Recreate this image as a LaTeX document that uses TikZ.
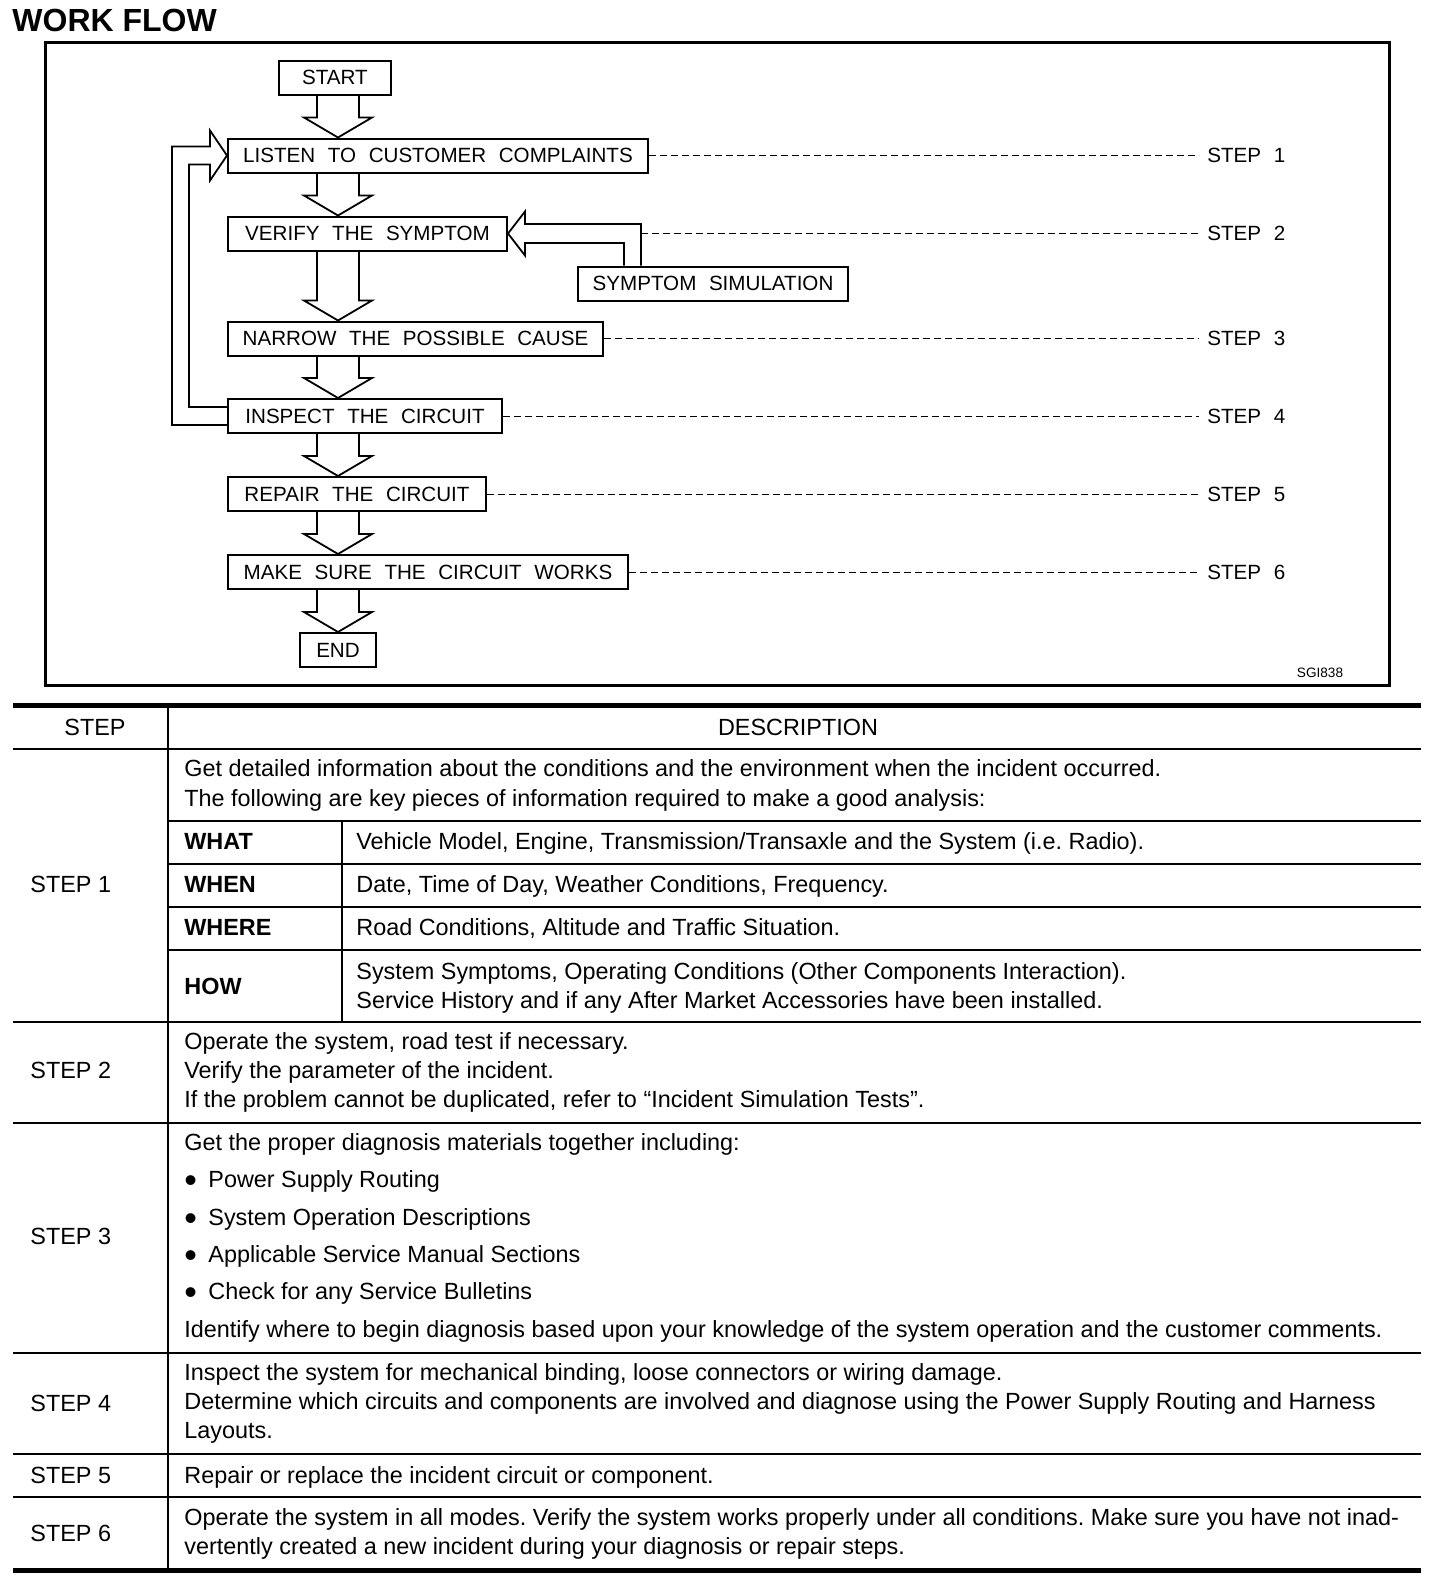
\documentclass[tikz,border=0pt]{standalone}
\usepackage{fontspec}
\setmainfont{Liberation Sans}
\newfontfamily\flowfont[WordSpace=2.2]{Liberation Sans}
\newcommand\dotmark{\makebox[12pt][l]{\raisebox{-2.6pt}{\fontsize{18}{14}\selectfont •}}}
\usetikzlibrary{positioning,calc}

\begin{document}
\frenchspacing
\begin{tikzpicture}[x=0.5pt, y=-0.5pt,
    flowbox/.style={rectangle, draw, line width=1pt, fill=white, inner xsep=6pt, minimum height=17pt, font=\flowfont\fontsize{10.3}{12}\selectfont},
    hollow/.style={draw, line width=0.9pt, line join=miter},
    leader/.style={dash pattern=on 3.5pt off 2pt, line width=0.5pt},
    steplbl/.style={anchor=west, inner xsep=4pt, font=\flowfont\fontsize{10.3}{12}\selectfont},
    cell/.style={anchor=base west, inner sep=0pt, font=\fontsize{11.7}{14}\selectfont},
    head/.style={cell, font=\bfseries\fontsize{11.7}{14}\selectfont},
    rule/.style={line width=1pt},
    heavy/.style={line width=2.5pt}
]
\useasboundingbox (0,0) rectangle (1440,1580);

% title and frame
\node[anchor=base west, inner sep=0pt, font=\bfseries\fontsize{16}{19}\selectfont] (title) at (12,31) {WORK FLOW};
\draw[line width=1.5pt] (45,42) rectangle (1389,685);

% flow chart
\coordinate (col) at (338,0);
\coordinate (lblx) at (1199,0);
\node[flowbox, minimum width=56pt] (start) at (335,77.5) {START};
\node[flowbox, anchor=west, minimum width=210pt] (listen) at (227,155.5) {LISTEN TO CUSTOMER COMPLAINTS};
\node[flowbox, anchor=west, minimum width=139.5pt] (verify) at (227,233.5) {VERIFY THE SYMPTOM};
\node[flowbox, anchor=west, minimum width=135pt] (ssim) at (577,283.5) {SYMPTOM SIMULATION};
\node[flowbox, anchor=west, minimum width=187.5pt] (narrow) at (227,338.5) {NARROW THE POSSIBLE CAUSE};
\node[flowbox, anchor=west, minimum width=137pt] (inspect) at (227,416) {INSPECT THE CIRCUIT};
\node[flowbox, anchor=west, minimum width=129pt] (repair) at (227,494) {REPAIR THE CIRCUIT};
\node[flowbox, anchor=west, minimum width=200pt] (make) at (227,572) {MAKE SURE THE CIRCUIT WORKS};
\node[flowbox, minimum width=38pt] (finish) at (338,650) {END};

\foreach \a/\b in {start/listen, listen/verify, verify/narrow, narrow/inspect, inspect/repair, repair/make, make/finish}
  \draw[hollow] let \p1=(col |- \a.south), \p2=(col |- \b.north) in
    (\x1-10.5pt,\y1) -- (\x1-10.5pt,\y2+10pt) -- (\x1-17pt,\y2+10pt) -- (\x2,\y2)
    -- (\x1+17pt,\y2+10pt) -- (\x1+10.5pt,\y2+10pt) -- (\x1+10.5pt,\y1);

% loop back from the circuit check
\draw[hollow] let \p1=(inspect.west), \p2=(listen.west) in
  (\x1,\y1+4.5pt) -- (\x1-19pt,\y1+4.5pt) -- (\x1-19pt,\y2-4.5pt) -- (\x2-8.5pt,\y2-4.5pt)
  -- (\x2-8.5pt,\y2-12.5pt) -- (\x2,\y2) -- (\x2-8.5pt,\y2+12.5pt) -- (\x2-8.5pt,\y2+4.5pt)
  -- (\x1-27.5pt,\y2+4.5pt) -- (\x1-27.5pt,\y1-4.5pt) -- (\x1,\y1-4.5pt);

% simulation feeds the symptom check
\coordinate (simtop) at ([xshift=32pt]ssim.north west);
\coordinate (simturn) at (simtop |- verify.east);
\draw[hollow] let \p1=(verify.east), \p2=(ssim.north west) in
  (\x2+23.5pt,\y2) -- (\x2+23.5pt,\y1-4.75pt) -- (\x1+8.5pt,\y1-4.75pt) -- (\x1+8.5pt,\y1-11pt)
  -- (\x1,\y1) -- (\x1+8.5pt,\y1+11pt) -- (\x1+8.5pt,\y1+4.75pt) -- (\x2+32pt,\y1+4.75pt) -- (\x2+32pt,\y2);

% step labels
\foreach \b/\n in {listen/1, narrow/3, inspect/4, repair/5, make/6} {
  \node[steplbl] (lbl\n) at (\b.east -| lblx) {STEP \n};
  \draw[leader] (\b.east) -- (lbl\n.west);
}
\node[steplbl] (lbl2) at (simturn -| lblx) {STEP 2};
\draw[leader] (simturn) -- (lbl2.west);
\node[font=\fontsize{6.8}{8}\selectfont] (code) at (1320,673) {SGI838};

% table rules
\draw[heavy] (13,705) -- (1421,705);
\draw[heavy] (13,1570) -- (1421,1570);
\foreach \yy in {749,1022,1123,1353,1454,1497}
  \draw[rule] (13,\yy) -- (1421,\yy);
\foreach \yy in {821,864,907,950}
  \draw[rule] (168,\yy) -- (1421,\yy);
\draw[rule] (168,705) -- (168,1570);
\draw[rule] (342,821) -- (342,1022);

% table header and step column
\node[cell, anchor=base] (hstep) at (95,735) {STEP};
\node[cell, anchor=base] (hdesc) at (798,735) {DESCRIPTION};
\foreach \n/\yy in {1/892, 2/1078, 3/1244, 4/1411, 5/1483, 6/1541}
  \node[cell] (s\n) at (30,\yy) {STEP \n};

% step 1
\node[cell] (d1a) at (184,776) {Get detailed information about the conditions and the environment when the incident occurred.};
\node[cell] (d1b) at (184,806) {The following are key pieces of information required to make a good analysis:};
\node[head] (what) at (184,849) {WHAT};
\node[cell] (d1c) at (356,849) {Vehicle Model, Engine, Transmission/Transaxle and the System (i.e. Radio).};
\node[head] (when) at (184,892) {WHEN};
\node[cell] (d1d) at (356,892) {Date, Time of Day, Weather Conditions, Frequency.};
\node[head] (where) at (184,935) {WHERE};
\node[cell] (d1e) at (356,935) {Road Conditions, Altitude and Traffic Situation.};
\node[head] (how) at (184,994) {HOW};
\node[cell] (d1f) at (356,979) {System Symptoms, Operating Conditions (Other Components Interaction).};
\node[cell] (d1g) at (356,1008) {Service History and if any After Market Accessories have been installed.};

% step 2
\node[cell] (d2a) at (184,1049) {Operate the system, road test if necessary.};
\node[cell] (d2b) at (184,1078) {Verify the parameter of the incident.};
\node[cell] (d2c) at (184,1107) {If the problem cannot be duplicated, refer to “Incident Simulation Tests”.};

% step 3
\node[cell] (d3a) at (184,1150) {Get the proper diagnosis materials together including:};
\node[cell] (d3b) at (184,1187) {\dotmark Power Supply Routing};
\node[cell] (d3c) at (184,1225) {\dotmark System Operation Descriptions};
\node[cell] (d3d) at (184,1262) {\dotmark Applicable Service Manual Sections};
\node[cell] (d3e) at (184,1299) {\dotmark Check for any Service Bulletins};
\node[cell] (d3f) at (184,1337) {Identify where to begin diagnosis based upon your knowledge of the system operation and the customer comments.};

% step 4
\node[cell] (d4a) at (184,1380) {Inspect the system for mechanical binding, loose connectors or wiring damage.};
\node[cell] (d4b) at (184,1409) {Determine which circuits and components are involved and diagnose using the Power Supply Routing and Harness};
\node[cell] (d4c) at (184,1438) {Layouts.};

% steps 5 and 6
\node[cell] (d5a) at (184,1483) {Repair or replace the incident circuit or component.};
\node[cell] (d6a) at (184,1525) {Operate the system in all modes. Verify the system works properly under all conditions. Make sure you have not inad-};
\node[cell] (d6b) at (184,1554) {vertently created a new incident during your diagnosis or repair steps.};

\end{tikzpicture}
\end{document}
